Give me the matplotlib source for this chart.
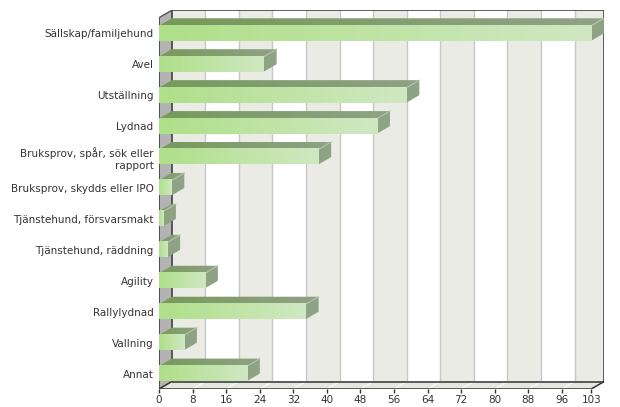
import numpy as np
import matplotlib
matplotlib.use("Agg")
import matplotlib.pyplot as plt
from matplotlib.patches import Polygon, Rectangle
from matplotlib.colors import LinearSegmentedColormap

categories = ["Sällskap/familjehund", "Avel", "Utställning", "Lydnad",
              "Bruksprov, spår, sök eller\nrapport", "Bruksprov, skydds eller IPO",
              "Tjänstehund, försvarsmakt", "Tjänstehund, räddning", "Agility",
              "Rallylydnad", "Vallning", "Annat"]
values = [103, 25, 59, 52, 38, 3, 1, 2, 11, 35, 6, 21]
xticks = [0, 8, 16, 24, 32, 40, 48, 56, 64, 72, 80, 88, 96, 103]

XMAX = 103
DX = 3.03      # depth offset in value units
DY = 0.24      # depth offset in category units
H = 0.485      # bar thickness
n = len(categories)

fig = plt.figure(figsize=(6.2, 4.07), dpi=100)
W, Hp = 620, 407
left, right, bottom, top = 159, 604, 389, 10.3
ax = fig.add_axes([left / W, 1 - bottom / Hp, (right - left) / W, (bottom - top) / Hp])
ax.set_xlim(0, XMAX + DX)
ax.set_ylim(n - 0.5, -0.5 - DY)
for s in ax.spines.values():
    s.set_visible(False)

dark = "#333333"
band = "#ebebe5"
y_front_bot = n - 0.5
y_back_bot = n - 0.5 - DY
y_back_top = -0.5 - DY
y_front_top = -0.5

# back wall bands
edges = xticks
for i in range(len(edges) - 1):
    c = band if i % 2 == 0 else "white"
    ax.add_patch(Rectangle((edges[i] + DX, y_back_top), edges[i + 1] - edges[i],
                           y_back_bot - y_back_top, facecolor=c, edgecolor="none", zorder=0))
for v in xticks[1:-1]:
    ax.plot([v + DX, v + DX], [y_back_bot, y_back_top], color="#c8c8c8", lw=1, zorder=1)

# floor
ax.add_patch(Polygon([(0, y_front_bot), (XMAX, y_front_bot), (XMAX + DX, y_back_bot), (DX, y_back_bot)],
                     closed=True, facecolor="#e6e6e0", edgecolor="none", zorder=1))
for v in xticks[1:-1]:
    ax.plot([v, v + DX], [y_front_bot, y_back_bot], color="#f8f8f8", lw=1, zorder=1.5)

# left wall
ax.add_patch(Polygon([(0, y_front_top), (DX, y_back_top), (DX, y_back_bot), (0, y_front_bot)],
                     closed=True, facecolor="#b3b3b3", edgecolor="none", zorder=1))

# frame lines
kw = dict(color=dark, lw=1.1, zorder=2, solid_capstyle="butt")
ax.plot([DX, XMAX + DX], [y_back_top, y_back_top], **kw)
ax.plot([XMAX + DX, XMAX + DX], [y_back_top, y_back_bot], **kw)
ax.plot([DX, XMAX + DX], [y_back_bot, y_back_bot], **kw)
ax.plot([DX, DX], [y_back_top, y_back_bot], **kw)
ax.plot([0, DX], [y_front_top, y_back_top], color="#555555", lw=1, zorder=2)
ax.plot([0, 0], [y_front_top, y_front_bot], **kw)
ax.plot([0, DX], [y_front_bot, y_back_bot], **kw)
ax.plot([0, XMAX], [y_front_bot, y_front_bot], **kw)
ax.plot([XMAX, XMAX + DX], [y_front_bot, y_back_bot], **kw)

front_cmap = LinearSegmentedColormap.from_list("f", ["#afdf89", "#d0e8c2"])
top_cmap = LinearSegmentedColormap.from_list("t", ["#769a5c", "#90a286"])
grad = np.linspace(0, 1, 256).reshape(1, -1)

for i, v in enumerate(values):
    yt = i - H / 2
    yb = i + H / 2
    # top face
    top_poly = Polygon([(0, yt), (v, yt), (v + DX, yt - DY), (DX, yt - DY)], closed=True,
                       facecolor="none", edgecolor="none", zorder=3)
    ax.add_patch(top_poly)
    im = ax.imshow(grad, cmap=top_cmap, extent=[0, v + DX, yt, yt - DY], aspect="auto",
                   zorder=3, interpolation="bilinear")
    im.set_clip_path(top_poly)
    # side face
    ax.add_patch(Polygon([(v, yt), (v + DX, yt - DY), (v + DX, yb - DY), (v, yb)], closed=True,
                         facecolor="#8da383", edgecolor="none", zorder=3))
    ax.plot([v, v + DX], [yt, yt - DY], color="#b4c4a8", lw=0.8, zorder=3.2)
    # front face
    im2 = ax.imshow(grad, cmap=front_cmap, extent=[0, v, yb, yt], aspect="auto",
                    zorder=4, interpolation="bilinear")

ax.set_xlim(0, XMAX + DX)
ax.set_ylim(n - 0.5, -0.5 - DY)

ax.set_yticks(range(n))
ax.set_yticklabels(categories, fontsize=7.5, color="#333333", multialignment="right")
ax.tick_params(axis="y", length=0, pad=4)
ax.set_xticks(xticks)
ax.set_xticklabels([str(t) for t in xticks], fontsize=7.5, color="#333333")
ax.tick_params(axis="x", length=3, width=1, color=dark, pad=1.5)

fig.savefig("out.png", dpi=100, facecolor="white")
